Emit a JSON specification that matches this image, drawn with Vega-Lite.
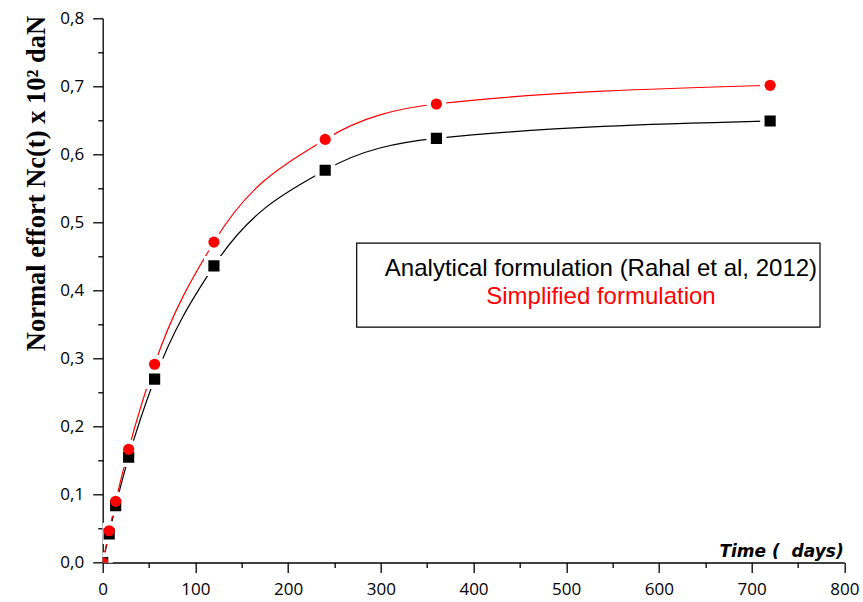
{
  "$schema": "https://vega.github.io/schema/vega-lite/v6.json",
  "width": 741.6,
  "height": 544.2,
  "autosize": {"type": "none"},
  "padding": {"left": 102.7, "top": 18.3, "right": 18.7, "bottom": 39.5},
  "background": "white",
  "config": {
    "view": {"stroke": null},
    "axis": {
      "grid": false,
      "domainColor": "black",
      "domainWidth": 1.3,
      "tickColor": "black",
      "tickWidth": 1.3,
      "labelColor": "black",
      "labelFont": "Open Sans",
      "labelFontSize": 17,
      "titleColor": "black",
      "zindex": 1
    }
  },
  "datasets": {
    "series": [
      {"series": "Analytical formulation (Rahal et al, 2012)", "t": 0, "n": 0},
      {"series": "Analytical formulation (Rahal et al, 2012)", "t": 7, "n": 0.042},
      {"series": "Analytical formulation (Rahal et al, 2012)", "t": 14, "n": 0.0835},
      {"series": "Analytical formulation (Rahal et al, 2012)", "t": 28, "n": 0.155},
      {"series": "Analytical formulation (Rahal et al, 2012)", "t": 56, "n": 0.2697},
      {"series": "Analytical formulation (Rahal et al, 2012)", "t": 120, "n": 0.436},
      {"series": "Analytical formulation (Rahal et al, 2012)", "t": 240, "n": 0.5766},
      {"series": "Analytical formulation (Rahal et al, 2012)", "t": 360, "n": 0.6235},
      {"series": "Analytical formulation (Rahal et al, 2012)", "t": 720, "n": 0.649},
      {"series": "Simplified formulation", "t": 0, "n": 0},
      {"series": "Simplified formulation", "t": 7, "n": 0.0467},
      {"series": "Simplified formulation", "t": 14, "n": 0.09},
      {"series": "Simplified formulation", "t": 28, "n": 0.1664},
      {"series": "Simplified formulation", "t": 56, "n": 0.2914},
      {"series": "Simplified formulation", "t": 120, "n": 0.471},
      {"series": "Simplified formulation", "t": 240, "n": 0.622},
      {"series": "Simplified formulation", "t": 360, "n": 0.674},
      {"series": "Simplified formulation", "t": 720, "n": 0.7015}
    ],
    "notes": [
      {"series": "Analytical formulation (Rahal et al, 2012)", "t": 537.5, "n": 0.4212},
      {"series": "Simplified formulation", "t": 537.5, "n": 0.38}
    ],
    "box": [{"t": 274, "t2": 773.8, "n": 0.346, "n2": 0.4694}]
  },
  "encoding": {
    "x": {
      "field": "t", "type": "quantitative",
      "scale": {"domain": [0, 800], "nice": false, "zero": false},
      "axis": {
        "values": [0, 50, 100, 150, 200, 250, 300, 350, 400, 450, 500, 550, 600, 650, 700, 750, 800],
        "labelExpr": "datum.value % 100 === 0 ? format(datum.value, 'd') : ''",
        "tickSize": {"condition": {"test": "datum.value % 100 === 0", "value": 10}, "value": 5},
        "labelPadding": 9,
        "labelFlush": false,
        "labelOverlap": false,
        "title": "Time (\u00a0\u00a0days)",
        "titleFont": "DejaVu Sans",
        "titleFontWeight": "bold",
        "titleFontStyle": "italic",
        "titleFontSize": 17,
        "titleAlign": "right",
        "titleBaseline": "alphabetic",
        "titleAnchor": "end",
        "titleX": 740.5,
        "titleY": -6.5
      }
    },
    "y": {
      "field": "n", "type": "quantitative",
      "scale": {"domain": [0, 0.8], "nice": false, "zero": false},
      "axis": {
        "values": [0, 0.05, 0.1, 0.15, 0.2, 0.25, 0.3, 0.35, 0.4, 0.45, 0.5, 0.55, 0.6, 0.65, 0.7, 0.75, 0.8],
        "labelExpr": "abs(datum.value * 10 - round(datum.value * 10)) < 0.000001 ? replace(format(datum.value, '.1f'), '.', ',') : ''",
        "tickSize": {"condition": {"test": "abs(datum.value * 10 - round(datum.value * 10)) < 0.000001", "value": 10}, "value": 5},
        "labelPadding": 9,
        "labelFlush": false,
        "labelOverlap": false,
        "title": "Normal effort Nc(t) x 10² daN",
        "titleFont": "Liberation Serif",
        "titleFontWeight": "bold",
        "titleFontSize": 26.5,
        "titleAngle": 270,
        "titleAlign": "right",
        "titleBaseline": "middle",
        "titleAnchor": "end",
        "titleX": -66,
        "titleY": -3
      }
    }
  },
  "layer": [
    {
      "data": {"name": "box"},
      "mark": {"type": "rect", "fill": "white", "stroke": "black", "strokeWidth": 1.2},
      "encoding": {
        "x2": {"field": "t2"},
        "y2": {"field": "n2"}
      }
    },
    {
      "data": {"name": "series"},
      "mark": {"type": "line", "interpolate": "monotone", "strokeWidth": 1.2, "clip": true},
      "encoding": {
        "color": {
          "field": "series", "type": "nominal",
          "scale": {"domain": ["Analytical formulation (Rahal et al, 2012)", "Simplified formulation"], "range": ["#000000", "#ff0000"]},
          "legend": null
        }
      }
    },
    {
      "data": {"name": "series"},
      "mark": {"type": "point", "filled": true, "opacity": 1, "color": "white", "size": 400, "strokeWidth": 0, "clip": true},
      "encoding": {
        "shape": {
          "field": "series", "type": "nominal",
          "scale": {"domain": ["Analytical formulation (Rahal et al, 2012)", "Simplified formulation"], "range": ["square", "circle"]},
          "legend": null
        }
      }
    },
    {
      "data": {"name": "series"},
      "mark": {"type": "point", "filled": true, "opacity": 1, "size": 125, "strokeWidth": 0, "clip": true},
      "encoding": {
        "shape": {"field": "series", "type": "nominal", "legend": null},
        "color": {"field": "series", "type": "nominal", "legend": null}
      }
    },
    {
      "data": {"name": "notes"},
      "mark": {"type": "text", "align": "center", "baseline": "alphabetic", "font": "Liberation Sans", "fontSize": 24},
      "encoding": {
        "text": {"field": "series", "type": "nominal"},
        "color": {"field": "series", "type": "nominal", "legend": null}
      }
    }
  ]
}
